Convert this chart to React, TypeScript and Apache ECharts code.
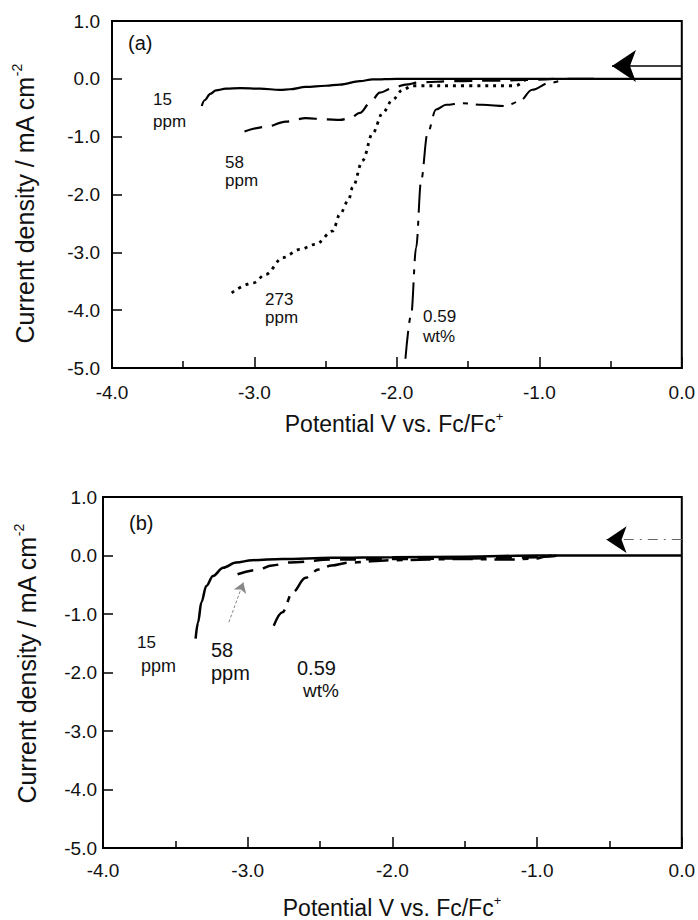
import React, { useEffect, useRef } from "react";
import * as echarts from "echarts";

// ---------- data (potential V vs Fc/Fc+, current density mA cm^-2) ----------
const xMin = -4;
const xMax = 0;
const yMin = -5;
const yMax = 1;

// Panel (a)
const a15ppm: number[][] = [
  [-3.37, -0.47], [-3.35, -0.37], [-3.31, -0.26], [-3.27, -0.2], [-3.2, -0.17],
  [-3.1, -0.16], [-2.96, -0.17], [-2.82, -0.19], [-2.75, -0.18], [-2.64, -0.14],
  [-2.5, -0.12], [-2.4, -0.1], [-2.26, -0.04], [-2.17, -0.01], [-2.0, 0], [-1.0, 0], [0, 0],
];
const a58ppm: number[][] = [
  [-3.07, -0.91], [-2.92, -0.83], [-2.78, -0.74], [-2.64, -0.68], [-2.5, -0.7],
  [-2.4, -0.71], [-2.33, -0.68], [-2.26, -0.59], [-2.19, -0.42], [-2.12, -0.24],
  [-2.03, -0.16], [-1.94, -0.1], [-1.84, -0.06], [-1.6, -0.04], [-1.3, -0.03],
  [-1.1, -0.02], [-0.9, 0],
];
const a273ppm: number[][] = [
  [-3.16, -3.7], [-3.01, -3.53], [-2.92, -3.38], [-2.8, -3.09], [-2.68, -2.95],
  [-2.57, -2.86], [-2.45, -2.63], [-2.4, -2.34], [-2.34, -2.1], [-2.31, -1.87],
  [-2.24, -1.41], [-2.17, -0.94], [-2.1, -0.59], [-2.03, -0.36], [-1.96, -0.19],
  [-1.89, -0.12], [-1.5, -0.12], [-1.17, -0.12], [-1.1, -0.02],
];
const a059wt: number[][] = [
  [-1.94, -4.84], [-1.9, -4.08], [-1.865, -2.92], [-1.83, -1.76], [-1.785, -0.94],
  [-1.725, -0.53], [-1.655, -0.45], [-1.54, -0.42], [-1.4, -0.45], [-1.235, -0.47],
  [-1.14, -0.39], [-1.05, -0.19], [-0.93, -0.07], [-0.79, 0], [-0.6, 0],
];
const arrowA: number[][] = [[0, 0.22], [-0.49, 0.22]];

// Panel (b)
const b15ppm: number[][] = [
  [-3.36, -1.42], [-3.343, -1.14], [-3.32, -0.8], [-3.286, -0.52], [-3.24, -0.35],
  [-3.17, -0.21], [-3.08, -0.12], [-2.97, -0.08], [-2.76, -0.06], [-2.42, -0.04],
  [-2.0, -0.03], [-1.5, -0.02], [-1.0, 0], [0, 0],
];
const b58ppm: number[][] = [
  [-3.07, -0.32], [-2.94, -0.25], [-2.83, -0.17], [-2.71, -0.12], [-2.42, -0.07],
  [-2.0, -0.06], [-1.5, -0.05], [-1.0, -0.03], [-0.9, 0],
];
const b059wt: number[][] = [
  [-2.82, -1.2], [-2.76, -0.97], [-2.69, -0.63], [-2.6, -0.38], [-2.51, -0.24],
  [-2.42, -0.17], [-2.3, -0.12], [-2.0, -0.08], [-1.5, -0.06], [-1.2, -0.07],
  [-1.0, -0.05], [-0.95, -0.02], [-0.85, 0],
];
const arrowBLine: number[][] = [[0, 0.27], [-0.45, 0.27]];
const arrowBHead: number[][] = [[-0.44, 0.27], [-0.52, 0.27]];
const pointer58: number[][] = [[-3.13, -1.14], [-3.03, -0.46]];

const FONT = "'Liberation Sans', Arial, Helvetica, sans-serif";
const INK = "#111";

export default function App() {
  const ref = useRef<HTMLDivElement>(null);

  useEffect(() => {
    if (!ref.current) return;
    const chart = echarts.init(ref.current, null, { renderer: "svg" });

    const mkX = (gridIndex: number, margin: number) => ({
      type: "value",
      gridIndex,
      min: xMin,
      max: xMax,
      interval: 1,
      axisLine: { show: true, onZero: false, lineStyle: { color: "#000", width: 2 } },
      axisTick: { show: true, inside: true, length: 11, lineStyle: { color: "#000", width: 1.5 } },
      minorTick: { show: true, splitNumber: 2, length: 7, lineStyle: { color: "#000", width: 1.5 } },
      splitLine: { show: false },
      minorSplitLine: { show: false },
      axisLabel: {
        fontSize: 19,
        color: INK,
        fontFamily: FONT,
        margin,
        formatter: (v: number) => v.toFixed(1),
      },
    });
    const mkY = (gridIndex: number, margin: number) => ({
      type: "value",
      gridIndex,
      min: yMin,
      max: yMax,
      interval: 1,
      axisLine: { show: true, onZero: false, lineStyle: { color: "#000", width: 2 } },
      axisTick: { show: true, inside: true, length: 10, lineStyle: { color: "#000", width: 1.5 } },
      splitLine: { show: false },
      axisLabel: {
        fontSize: 19,
        color: INK,
        fontFamily: FONT,
        margin,
        formatter: (v: number) => v.toFixed(1),
      },
    });

    const curve = (
      data: number[][],
      idx: number,
      type: any,
      width: number,
      name: string
    ) => ({
      name,
      type: "line",
      xAxisIndex: idx,
      yAxisIndex: idx,
      data,
      showSymbol: false,
      smooth: 0.35,
      smoothMonotone: "x",
      lineStyle: { color: "#000", width, type },
      z: 3,
    });

    const label = (text: string, x: number, y: number, size: number) => ({
      type: "text",
      x,
      y,
      style: {
        text,
        fontSize: size,
        fontFamily: FONT,
        fill: INK,
        align: "left",
        verticalAlign: "middle",
      },
    });

    const yTitle = (x: number, y: number) => ({
      type: "text",
      x,
      y,
      rotation: Math.PI / 2,
      style: {
        text: "{m|Current density / mA cm}{s|-2}",
        align: "center",
        verticalAlign: "middle",
        fill: INK,
        rich: {
          m: { fontSize: 25, fontFamily: FONT, fill: INK, lineHeight: 30 },
          s: { fontSize: 14, fontFamily: FONT, fill: INK, lineHeight: 10, verticalAlign: "top" },
        },
      },
    });
    const xTitle = (x: number, y: number) => ({
      type: "text",
      x,
      y,
      style: {
        text: "{m|Potential V vs. Fc/Fc}{s|+}",
        align: "center",
        verticalAlign: "middle",
        fill: INK,
        rich: {
          m: { fontSize: 23, fontFamily: FONT, fill: INK, lineHeight: 28 },
          s: { fontSize: 13, fontFamily: FONT, fill: INK, lineHeight: 8, verticalAlign: "top" },
        },
      },
    });

    const option: any = {
      animation: false,
      backgroundColor: "#fff",
      grid: [
        { left: 112, top: 21, width: 571, height: 347, show: true, borderColor: "#000", borderWidth: 2 },
        { left: 103, top: 497, width: 582, height: 351, show: true, borderColor: "#000", borderWidth: 2 },
      ],
      xAxis: [mkX(0, 15), mkX(1, 13)],
      yAxis: [mkY(0, 12), mkY(1, 6)],
      series: [
        curve(a15ppm, 0, "solid", 2.2, "15 ppm (a)"),
        curve(a58ppm, 0, [18, 10], 2.2, "58 ppm (a)"),
        curve(a273ppm, 0, [3, 5], 2.8, "273 ppm (a)"),
        curve(a059wt, 0, [28, 8, 5, 8], 2, "0.59 wt% (a)"),
        {
          type: "lines",
          coordinateSystem: "cartesian2d",
          xAxisIndex: 0,
          yAxisIndex: 0,
          symbol: ["none", "arrow"],
          symbolSize: [16, 24],
          lineStyle: { color: "#000", width: 1.5, opacity: 1, curveness: 0 },
          data: [{ coords: arrowA }],
          z: 4,
        },
        curve(b15ppm, 1, "solid", 2.5, "15 ppm (b)"),
        curve(b58ppm, 1, [16, 10], 2.5, "58 ppm (b)"),
        curve(b059wt, 1, [20, 8, 6, 8], 2.5, "0.59 wt% (b)"),
        {
          type: "lines",
          coordinateSystem: "cartesian2d",
          xAxisIndex: 1,
          yAxisIndex: 1,
          symbol: ["none", "none"],
          lineStyle: { color: "#666", width: 1, opacity: 1, type: [10, 6, 2, 6] },
          data: [{ coords: arrowBLine }],
          z: 4,
        },
        {
          type: "lines",
          coordinateSystem: "cartesian2d",
          xAxisIndex: 1,
          yAxisIndex: 1,
          symbol: ["none", "arrow"],
          symbolSize: [14, 20],
          lineStyle: { color: "#000", width: 1, opacity: 1 },
          data: [{ coords: arrowBHead }],
          z: 4,
        },
        {
          type: "lines",
          coordinateSystem: "cartesian2d",
          xAxisIndex: 1,
          yAxisIndex: 1,
          symbol: ["none", "arrow"],
          symbolSize: [6, 10],
          lineStyle: { color: "#888", width: 1, opacity: 1, type: [3, 2] },
          data: [{ coords: pointer58 }],
          z: 4,
        },
      ],
      graphic: [
        label("(a)", 128, 43, 20),
        label("15", 153, 99, 17),
        label("ppm", 153, 121, 17),
        label("58", 225, 162, 17),
        label("ppm", 225, 180, 17),
        label("273", 265, 299, 17),
        label("ppm", 265, 317, 17),
        label("0.59", 423, 316, 17),
        label("wt%", 423, 336, 17),
        yTitle(25, 204),
        xTitle(394, 424),

        label("(b)", 129, 523, 20),
        label("15", 137, 642, 17),
        label("ppm", 141, 666, 18),
        label("58", 211, 650, 20),
        label("ppm", 211, 673, 20),
        label("0.59", 297, 668, 20),
        label("wt%", 303, 690, 19),
        yTitle(27, 664),
        xTitle(392, 908),
      ],
    };

    chart.setOption(option);
    return () => chart.dispose();
  }, []);

  return (
    <div
      ref={ref}
      style={{ position: "absolute", left: 0, top: 0, width: 698, height: 920, background: "#fff" }}
    />
  );
}
